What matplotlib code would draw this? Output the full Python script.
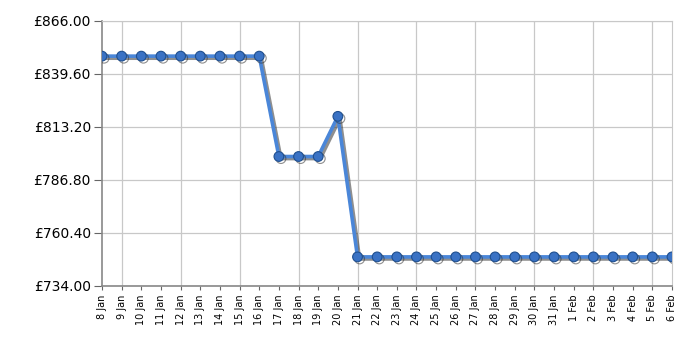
import matplotlib
matplotlib.use("Agg")
import matplotlib.pyplot as plt
import matplotlib.patheffects as pe
import numpy as np

dates = ["8 Jan", "9 Jan", "10 Jan", "11 Jan", "12 Jan", "13 Jan", "14 Jan", "15 Jan",
         "16 Jan", "17 Jan", "18 Jan", "19 Jan", "20 Jan", "21 Jan", "22 Jan", "23 Jan",
         "24 Jan", "25 Jan", "26 Jan", "27 Jan", "28 Jan", "29 Jan", "30 Jan", "31 Jan",
         "1 Feb", "2 Feb", "3 Feb", "4 Feb", "5 Feb", "6 Feb"]
prices = [848.5, 848.5, 848.5, 848.5, 848.5, 848.5, 848.5, 848.5, 848.5,
          798.5, 798.5, 798.5, 818.5,
          748.5, 748.5, 748.5, 748.5, 748.5, 748.5, 748.5, 748.5, 748.5, 748.5, 748.5,
          748.5, 748.5, 748.5, 748.5, 748.5, 748.5]
y_ticks = [734.0, 760.4, 786.8, 813.2, 839.6, 866.0]

fig = plt.figure(figsize=(7, 3.5), dpi=100)
ax = fig.add_axes([102 / 700, 1 - 286 / 350, 570 / 700, 265 / 350])

x = np.arange(len(dates))
ax.plot(x, prices, color="#4a86d8", lw=2.6, zorder=3,
        marker="o", ms=7, mfc="#3a72c4", mec="#1f4f8f", mew=0.8,
        path_effects=[pe.SimpleLineShadow(offset=(1.5, -1.5), shadow_color="#333333", alpha=0.55),
                      pe.Normal()])

ax.set_xlim(0, len(dates) - 1)
ax.set_ylim(y_ticks[0], y_ticks[-1])
ax.set_yticks(y_ticks)
ax.set_yticklabels(["£%.2f" % v for v in y_ticks], fontsize=10)

ax.set_xticks(x)
ax.set_xticklabels(dates, rotation=90, fontsize=7)
ax.set_xticks(x[1::3], minor=True)
ax.tick_params(axis="x", which="major", length=3, color="#666666", pad=3)
ax.tick_params(axis="x", which="minor", length=6, color="#666666")
ax.tick_params(axis="y", length=6, color="#666666", pad=2)

ax.grid(False)
for xv in x[1::3]:
    ax.axvline(xv, color="#c8c8c8", lw=0.9, zorder=1)
for yv in y_ticks:
    ax.axhline(yv, color="#c8c8c8", lw=0.9, zorder=1)

for s in ["top", "right"]:
    ax.spines[s].set_color("#c8c8c8")
for s in ["left", "bottom"]:
    ax.spines[s].set_color("#888888")
    ax.spines[s].set_linewidth(1.2)

fig.savefig("out.png", dpi=100)
